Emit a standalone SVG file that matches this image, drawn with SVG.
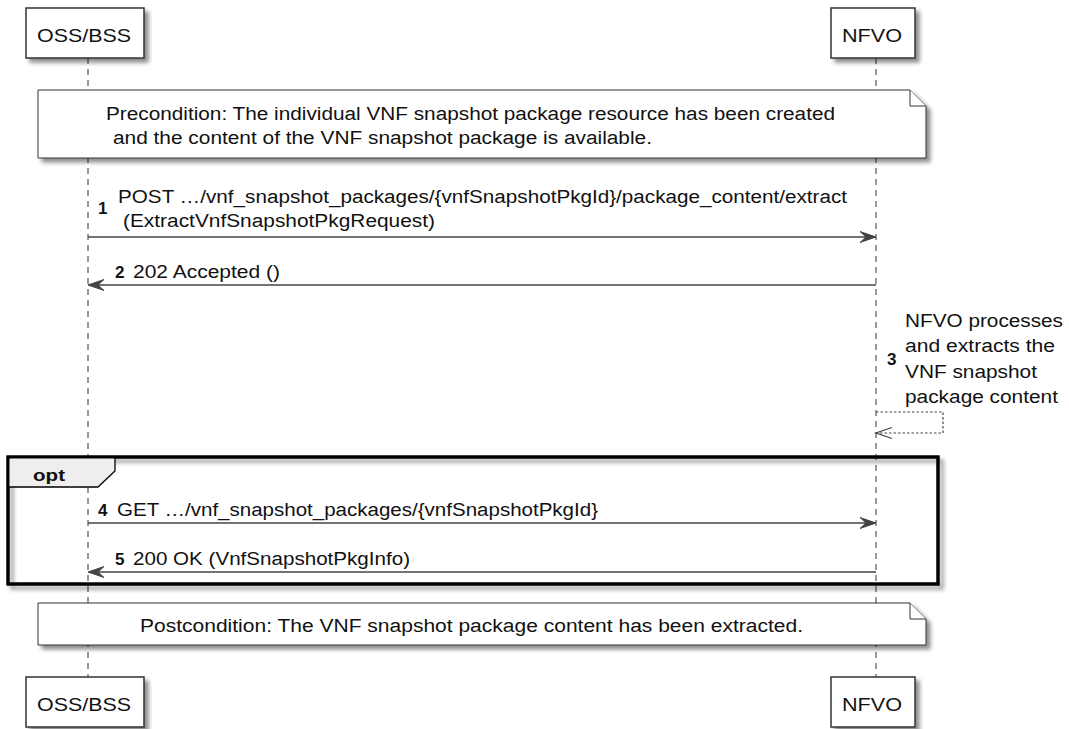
<svg xmlns="http://www.w3.org/2000/svg" width="1069" height="729" viewBox="0 0 1069 729">
<defs>
<filter id="sh" x="-5%" y="-20%" width="115%" height="160%">
<feGaussianBlur in="SourceAlpha" stdDeviation="2"/>
<feOffset dx="4" dy="4" result="b"/>
<feComponentTransfer><feFuncA type="linear" slope="0.45"/></feComponentTransfer>
<feMerge><feMergeNode/><feMergeNode in="SourceGraphic"/></feMerge>
</filter>
</defs>
<style>
text{font-family:"Liberation Sans",Arial,sans-serif;fill:#111}
.t{font-size:18px}
.p{font-size:19px}
.n{font-size:17px;font-weight:bold}
.box{fill:#fff;stroke:#333;stroke-width:1.5}
.note{fill:#fff;stroke:#333;stroke-width:1}
.life{stroke:#333;stroke-width:1;stroke-dasharray:6,5;fill:none}
.msg{stroke:#444;stroke-width:1.3;fill:none}
.head{fill:#444;stroke:#444;stroke-width:1}
.dot{stroke:#444;stroke-width:1.2;stroke-dasharray:2.5,2;fill:none}
</style>
<g id="lifelines">
<line class="life" x1="88" y1="58" x2="88" y2="677"/>
<line class="life" x1="876" y1="58" x2="876" y2="677"/>
</g>
<g id="opt-frame">
<rect x="8" y="457" width="930" height="127" fill="none" stroke="#000" stroke-width="3" filter="url(#sh)"/>
<polygon points="8,457 115,457 115,471 98,487 8,487" fill="#eee" stroke="#000" stroke-width="1.3"/>
<rect x="8" y="457" width="930" height="127" fill="none" stroke="#000" stroke-width="3"/>
<text class="n" x="33" y="481" textLength="32" lengthAdjust="spacingAndGlyphs">opt</text>
</g>
<g id="participant-oss-top">
<rect class="box" x="26" y="8" width="118" height="50" filter="url(#sh)"/>
<text class="p" x="37" y="42" textLength="94" lengthAdjust="spacingAndGlyphs">OSS/BSS</text>
</g>
<g id="participant-nfvo-top">
<rect class="box" x="831" y="8" width="84" height="50" filter="url(#sh)"/>
<text class="p" x="842" y="42" textLength="60" lengthAdjust="spacingAndGlyphs">NFVO</text>
</g>
<g id="participant-oss-bottom">
<rect class="box" x="26" y="677" width="118" height="50" filter="url(#sh)"/>
<text class="p" x="37" y="711" textLength="94" lengthAdjust="spacingAndGlyphs">OSS/BSS</text>
</g>
<g id="participant-nfvo-bottom">
<rect class="box" x="831" y="677" width="84" height="50" filter="url(#sh)"/>
<text class="p" x="842" y="711" textLength="60" lengthAdjust="spacingAndGlyphs">NFVO</text>
</g>
<g id="note-precondition">
<path class="note" d="M38,90 H910 L926,106 V158 H38 Z" filter="url(#sh)"/>
<path class="note" d="M910,90 V106 H926" fill="none"/>
<text class="t" x="106" y="120" textLength="729" lengthAdjust="spacingAndGlyphs">Precondition: The individual VNF snapshot package resource has been created</text>
<text class="t" x="113" y="144" textLength="539" lengthAdjust="spacingAndGlyphs">and the content of the VNF snapshot package is available.</text>
</g>
<g id="note-postcondition">
<path class="note" d="M38,603 H910 L926,619 V645 H38 Z" filter="url(#sh)"/>
<path class="note" d="M910,603 V619 H926" fill="none"/>
<text class="t" x="140" y="632" textLength="663" lengthAdjust="spacingAndGlyphs">Postcondition: The VNF snapshot package content has been extracted.</text>
</g>
<g id="connectors">
<g id="msg1">
<line class="msg" x1="88" y1="237" x2="874" y2="237"/>
<polygon class="head" points="876,237 860,231.5 866,237 860,242.5"/>
<text class="n" x="98" y="214">1</text>
<text class="t" x="118" y="203" textLength="729" lengthAdjust="spacingAndGlyphs">POST …/vnf_snapshot_packages/{vnfSnapshotPkgId}/package_content/extract</text>
<text class="t" x="123" y="227" textLength="312" lengthAdjust="spacingAndGlyphs">(ExtractVnfSnapshotPkgRequest)</text>
</g>
<g id="msg2">
<line class="msg" x1="90" y1="285" x2="876" y2="285"/>
<polygon class="head" points="88,285 104,279.5 98,285 104,290.5"/>
<text class="n" x="115" y="278">2</text>
<text class="t" x="133" y="278" textLength="147" lengthAdjust="spacingAndGlyphs">202 Accepted ()</text>
</g>
<g id="msg3">
<polyline class="dot" points="876,412 943,412 943,433 877,433"/>
<polyline class="msg" points="892,427.5 876,433 892,438.5" stroke-width="1.2"/>
<text class="n" x="887" y="365">3</text>
<text class="t" x="905" y="327" textLength="158" lengthAdjust="spacingAndGlyphs">NFVO processes</text>
<text class="t" x="905" y="352" textLength="150" lengthAdjust="spacingAndGlyphs">and extracts the</text>
<text class="t" x="905" y="378" textLength="132" lengthAdjust="spacingAndGlyphs">VNF snapshot</text>
<text class="t" x="905" y="403" textLength="153" lengthAdjust="spacingAndGlyphs">package content</text>
</g>
<g id="msg4">
<line class="msg" x1="88" y1="523" x2="874" y2="523"/>
<polygon class="head" points="876,523 860,517.5 866,523 860,528.5"/>
<text class="n" x="98" y="516">4</text>
<text class="t" x="117" y="516" textLength="481" lengthAdjust="spacingAndGlyphs">GET …/vnf_snapshot_packages/{vnfSnapshotPkgId}</text>
</g>
<g id="msg5">
<line class="msg" x1="90" y1="572" x2="876" y2="572"/>
<polygon class="head" points="88,572 104,566.5 98,572 104,577.5"/>
<text class="n" x="115" y="565">5</text>
<text class="t" x="133" y="565" textLength="277" lengthAdjust="spacingAndGlyphs">200 OK (VnfSnapshotPkgInfo)</text>
</g>
</g>
</svg>
